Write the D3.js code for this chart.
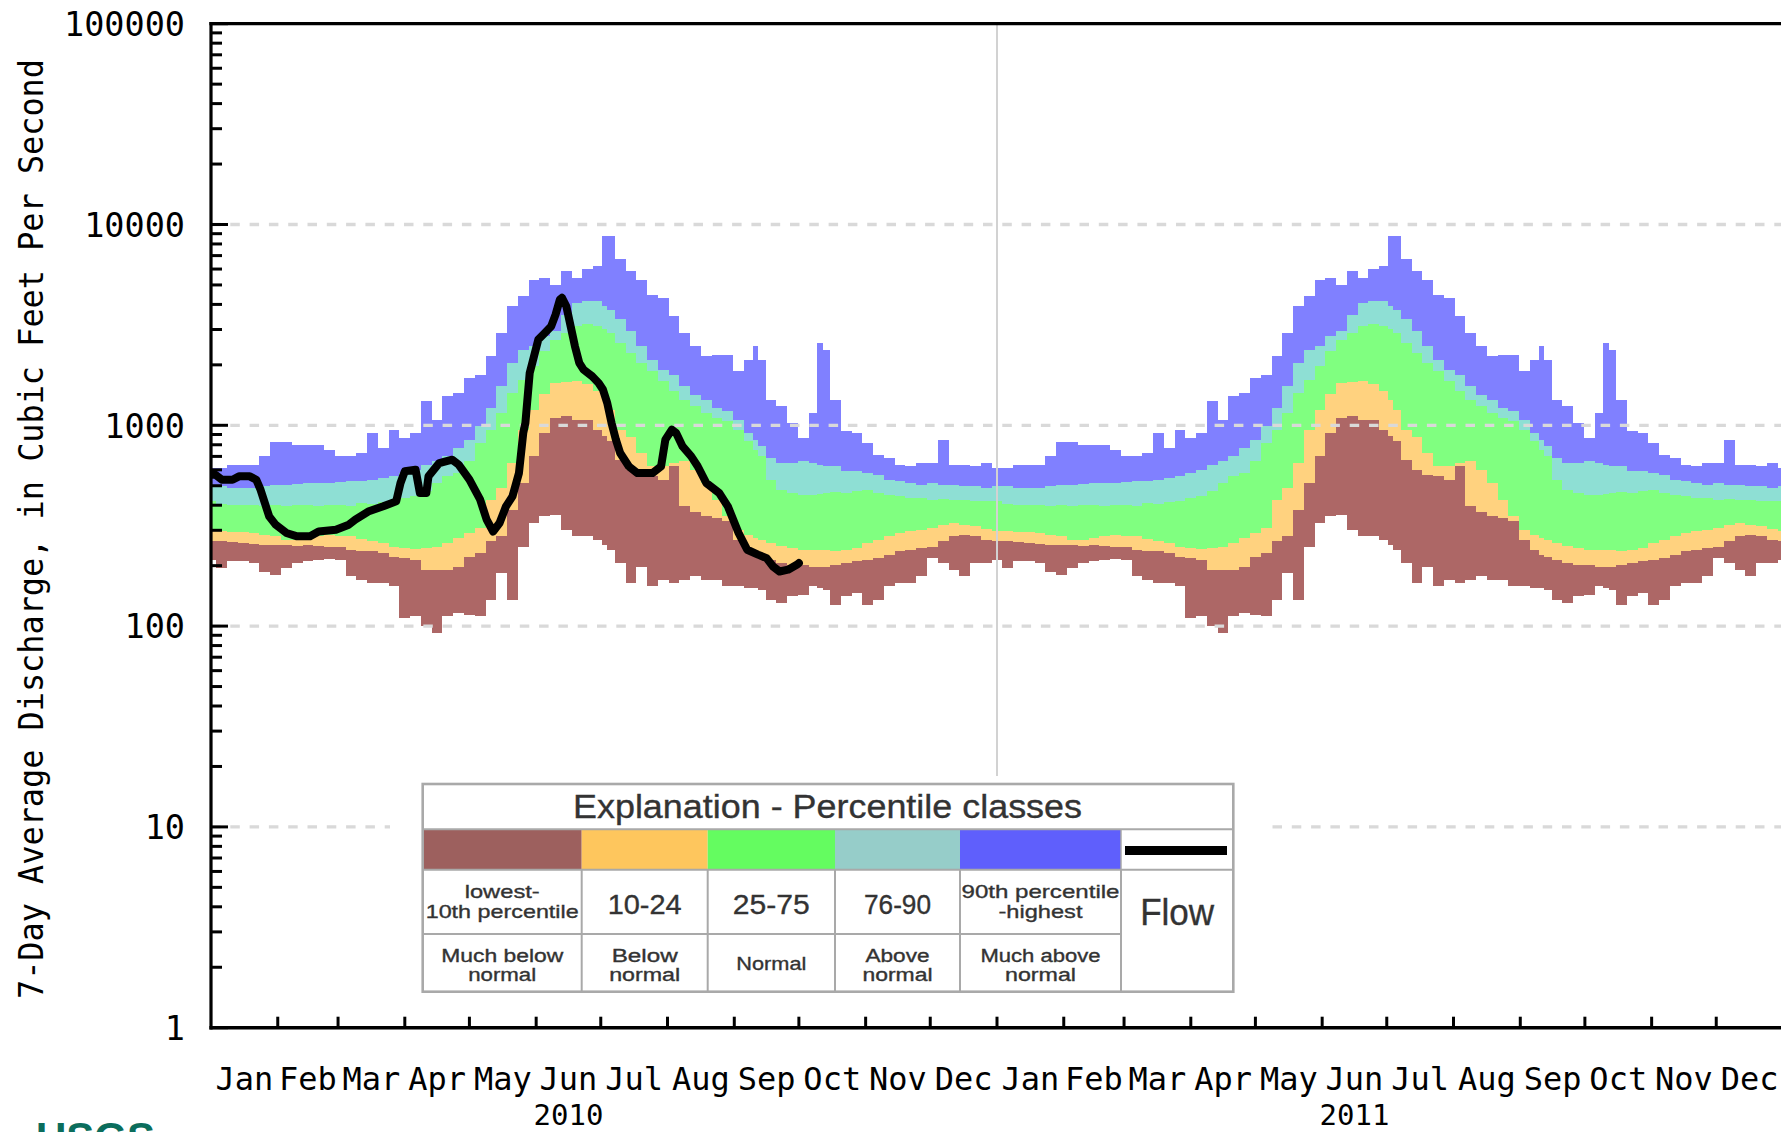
<!DOCTYPE html>
<html><head><meta charset="utf-8">
<script src="https://cdn.jsdelivr.net/npm/d3@7"></script>
<style>html,body{margin:0;padding:0;background:#fff;overflow:hidden}</style>
</head><body><svg id="c" width="1781" height="1132" xmlns="http://www.w3.org/2000/svg"></svg>
<script>
// ---- data (day of year -> 7-day discharge percentiles, cfs) ----
const days = [0,5,10,15,20,25,30,35,40,45,50,55,60,65,70,75,80,85,90,95,100,105,110,115,120,125,130,135,140,145,150,155,160,165,170,175,180,183,185,190,195,200,205,210,215,220,225,230,235,240,245,250,253,255,260,265,270,275,280,283,285,290,295,300,305,310,315,320,325,330,335,340,345,350,355,360,365];
const pMax = [613,613,637,637,637,700,822,822,802,802, 802,757,700,700,728,916,771,951,865,916, 1318,1067,1396,1449,1722,1788,2208,2884,3918,4394, 5320,5420,5023,5853,5420,5970,6194, 8750, 8750,6700,5853,5320,4478,4315,3493,2884,2477,2208,2251,2251,1858,2125, 2477, 2125,1343,1245,1028,865,1151, 2571, 2384,1343,933,916,817,714,687,637,625,649,649,849,637,637,625,649,613];
const p90 = [497,497,487,487,487,500,506,506,512,516, 516,516,520,526,526,532,547,557,578,601, 637,662,700,771,849,989,1219,1563,2046,2384, 2477,2780,2941,3560,4073,4150,4150, 3918, 3770,3365,2941,2477,2125,1896,1788,1563,1423,1343,1219,1174,1067,916, 849, 785,687,649,649,662,649, 637, 625,625,590,590,578,567,536,526,516,506,516,506,506,497,497,487,497];
const p75 = [418,407,402,402,402,398,402,398,402,402, 398,402,402,398,410,407,414,418,434,446, 469,516,557,578,662,817,951,1151,1449,1690, 1968,2339,2673,2884,3115,3210,3115, 3000, 2884,2571,2291,2046,1858,1656,1476,1343,1245,1151,1088,1047,951,832, 757, 700,536,478,460,451,451, 455, 460,464,460,469,474,460,451,443,434,434,426,430,426,426,418,418,418];
const p25 = [296,296,293,293,291,285,280,269,269,274, 280,285,282,280,271,264,259,249,245,242, 245,249,259,274,291,308,426,487,649,951, 1197,1424,1625,1637,1656,1612,1476, 1343, 1197,951,874,728,625,625,649,662,601,516,426,352,302,285, 274, 269,259,251,245,240,240, 240, 240,236,240,245,259,269,280,291,296,302,308,320,326,320,314,305,296];
const p10 = [264,264,261,259,257,254,254,254,251,254, 251,249,249,240,236,236,231,222,218,214, 191,191,191,198,222,231,264,280,380,516, 700,916,1088,1109,1067,1067,951, 882, 832,674,601,567,557,536,625,395,372,352,345,332,269,240, 227, 222,214,206,202,202,198, 198, 198,202,206,210,214,218,227,236,240,245,249,264,280,285,280,269,264];
const pMin = [214,195,210,210,206,187,180,195,206,210, 214,216,214,177,170,164,164,158,110,112, 100,92,112,116,114,112,135,184,135,249, 326,352,358,302,280,280,269, 254, 240,206,164,198,158,170,164,170,177,170,170,158,158,155, 155, 152,135,130,141,143,158, 155, 152,127,141,146,127,135,158,164,164,177,218,206,191,177,206,206,214];

// observed flow, 2010 (day of year -> cfs)
const flowDays = [0,2,5,10,13,18,21,23,25,27,30,35,40,46,50,58,64,67,73,80,86,88,90,95,97,100,101,106,112,115,120,125,128,131,134,137,140,143,145,146,148,150,152,155,158,160,162,163,165,167,169,171,173,177,180,182,184,186,188,190,194,198,205,209,211,214,216,219,223,226,230,236,240,245,249,254,258,261,264,268,272,273];
const flowValues = [568,568,536,536,557,557,536,478,410,352,320,291,280,280,296,302,320,339,372,395,418,516,590,601,460,460,557,649,674,637,536,426,339,296,326,395,443,578,916,1028,1824,2208,2673,2884,3115,3556,4227,4315,3918,3115,2477,2046,1892,1754,1625,1507,1291,1028,849,728,625,578,578,625,849,951,916,785,700,625,516,460,395,291,240,227,218,198,187,191,202,206];

const months = ["Jan","Feb","Mar","Apr","May","Jun","Jul","Aug","Sep","Oct","Nov","Dec"];
const years = [2010, 2011];
const yTicks = [1,10,100,1000,10000,100000];
const yGrid = [10,100,1000,10000];
const yTitle = "7-Day Average Discharge, in Cubic Feet Per Second";

const bandColors = ["#ad6766","#ffd27f","#80ff80","#8edfd4","#8080ff"]; // min-10, 10-25, 25-75, 75-90, 90-max
const legendTitle = "Explanation - Percentile classes";
const legendColors = ["#9d605e","#fec65d","#64fc60","#96cdc9","#5f5ffc"];
const legendRange = [["lowest-","10th percentile"],["10-24"],["25-75"],["76-90"],["90th percentile","-highest"]];
const legendDesc = [["Much below","normal"],["Below","normal"],["Normal"],["Above","normal"],["Much above","normal"]];
const legendFlow = "Flow";

// ---- drawing ----
const svg = d3.select("#c");
const W = 1781, H = 1132;
const X0 = 211, YB = 1027.7, YT = 23.7;
const x = d3.scaleUtc().domain([new Date(Date.UTC(2010,0,1)), new Date(Date.UTC(2012,0,1))]).range([X0, 1783]);
const y = d3.scaleLog().domain([1, 100000]).range([YB, YT]);
const DAY = 864e5;
const mono = "'DejaVu Sans Mono', monospace";
const sans = "'Liberation Sans', Arial, sans-serif";

svg.append("rect").attr("width", W).attr("height", H).attr("fill", "#fff");
svg.append("defs").append("clipPath").attr("id","clip")
  .append("rect").attr("x", X0).attr("y", YT).attr("width", W - X0).attr("height", YB - YT);

const plot = svg.append("g").attr("clip-path","url(#clip)");

// bands (painter's order, each filled down to the minimum)
const uppers = [pMax, p90, p75, p25, p10];
const colorsTopDown = [bandColors[4], bandColors[3], bandColors[2], bandColors[1], bandColors[0]];
years.forEach(yr => {
  const base = Date.UTC(yr,0,1);
  const pts = days.map((d,i) => ({t: new Date(base + d*DAY), i}));
  uppers.forEach((arr, k) => {
    const area = d3.area().curve(d3.curveStep)
      .x(p => x(p.t)).y0(p => y(pMin[p.i])).y1(p => y(arr[p.i]));
    plot.append("path").attr("d", area(pts)).attr("fill", colorsTopDown[k])
      .attr("shape-rendering","crispEdges");
  });
});

// horizontal dashed grid
yGrid.forEach(v => {
  plot.append("line").attr("x1", X0).attr("x2", W).attr("y1", y(v)).attr("y2", y(v))
    .attr("stroke", "#d9d9d9").attr("stroke-width", 3.3).attr("stroke-dasharray", "9.5,9.8");
});
// year divider
plot.append("line").attr("x1", x(new Date(Date.UTC(2011,0,1)))).attr("x2", x(new Date(Date.UTC(2011,0,1))))
  .attr("y1", YT).attr("y2", 776).attr("stroke", "#d2d2d2").attr("stroke-width", 2);

// flow line
const fBase = Date.UTC(2010,0,1);
const flowLine = d3.line().x((d,i) => x(new Date(fBase + flowDays[i]*DAY))).y((d) => y(d));
plot.append("path").attr("d", flowLine(flowValues)).attr("fill","none")
  .attr("stroke","#000").attr("stroke-width", 8).attr("stroke-linejoin","round").attr("stroke-linecap","round");

// ---- axes ----
const ax = svg.append("g");
// y ticks (major + minor), pointing into the plot
for (let e = 0; e <= 5; e++) {
  for (let m = 1; m <= 9; m++) {
    const v = m * Math.pow(10, e);
    if (v > 100000) break;
    const len = m === 1 ? 17 : 11;
    ax.append("line").attr("x1", X0).attr("x2", X0 + len).attr("y1", y(v)).attr("y2", y(v))
      .attr("stroke","#000").attr("stroke-width", 3);
  }
}
// x ticks at month starts
for (let i = 1; i < 24; i++) {
  const t = new Date(Date.UTC(2010 + Math.floor(i/12), i % 12, 1));
  ax.append("line").attr("x1", x(t)).attr("x2", x(t)).attr("y1", YB).attr("y2", YB - 11)
    .attr("stroke","#000").attr("stroke-width", 3);
}
// frame
ax.append("line").attr("x1", X0).attr("x2", X0).attr("y1", YT - 1.6).attr("y2", YB + 1.8).attr("stroke","#000").attr("stroke-width", 3.2);
ax.append("line").attr("x1", X0 - 1.6).attr("x2", W).attr("y1", YB).attr("y2", YB).attr("stroke","#000").attr("stroke-width", 3.5);
ax.append("line").attr("x1", X0 - 1.6).attr("x2", W).attr("y1", YT).attr("y2", YT).attr("stroke","#000").attr("stroke-width", 3.3);

// y tick labels
yTicks.forEach(v => {
  ax.append("text").attr("x", 185).attr("y", y(v) + 12.3).attr("text-anchor","end")
    .attr("font-family", mono).attr("font-size", 33.5).attr("fill","#000").text(d3.format("d")(v));
});
// y title
ax.append("text").attr("transform", `translate(43,529) rotate(-90)`).attr("text-anchor","middle")
  .attr("font-family", mono).attr("font-size", 34.5).attr("textLength", 940).attr("lengthAdjust","spacingAndGlyphs")
  .attr("fill","#000").text(yTitle);
// month labels
for (let i = 0; i < 24; i++) {
  const a = new Date(Date.UTC(2010 + Math.floor(i/12), i % 12, 1));
  const b = new Date(Date.UTC(2010 + Math.floor((i+1)/12), (i+1) % 12, 1));
  ax.append("text").attr("x", (x(a) + x(b)) / 2).attr("y", 1090).attr("text-anchor","middle")
    .attr("font-family", mono).attr("font-size", 32).attr("fill","#000").text(months[i % 12]);
}
// year labels
years.forEach(yr => {
  ax.append("text").attr("x", x(new Date(Date.UTC(yr,5,16)))).attr("y", 1125).attr("text-anchor","middle")
    .attr("font-family", mono).attr("font-size", 29).attr("fill","#000").text(String(yr));
});

// ---- legend ----
const lg = svg.append("g");
lg.append("rect").attr("x", 390).attr("y", 776).attr("width", 876).attr("height", 230).attr("fill","#fff");
const L = 422.7, R = 1233.3, T = 784, R1 = 829.3, R2 = 869.8, R3 = 934, B = 991.7;
const cols = [L, 581.7, 707.7, 835, 960, 1121, R];
legendColors.forEach((c, i) => {
  lg.append("rect").attr("x", cols[i]).attr("y", R1).attr("width", cols[i+1] - cols[i]).attr("height", R2 - R1).attr("fill", c);
});
// flow swatch
lg.append("line").attr("x1", 1125).attr("x2", 1227).attr("y1", 850.5).attr("y2", 850.5).attr("stroke","#000").attr("stroke-width", 9);
const gc = "#a9a9a9";
const gl = (x1,y1,x2,y2,w) => lg.append("line").attr("x1",x1).attr("y1",y1).attr("x2",x2).attr("y2",y2).attr("stroke",gc).attr("stroke-width",w||2);
gl(L, R1, R, R1); gl(L, R2, R, R2); gl(L, R3, cols[5], R3);
for (let i = 1; i < 6; i++) gl(cols[i], R2, cols[i], B);
gl(cols[5], R1, cols[5], R2, 1.5);
lg.append("rect").attr("x", L).attr("y", T).attr("width", R - L).attr("height", B - T)
  .attr("fill","none").attr("stroke", gc).attr("stroke-width", 2.6);

const tcol = "#333";
const ltext = (str, cx, by, fs, len) => lg.append("text").attr("x", cx).attr("y", by).attr("text-anchor","middle")
  .attr("font-family", sans).attr("font-size", fs).attr("fill", tcol)
  .attr("stroke", tcol).attr("stroke-width", 0.35)
  .attr("textLength", len).attr("lengthAdjust","spacingAndGlyphs").text(str);
ltext(legendTitle, 827.5, 818, 33, 509);
const centers = cols.slice(0,6).map((c,i) => (c + cols[i+1]) / 2);
const rangeLens = [[75,153],[74],[77],[67],[158,84]];
const descLens = [[122,68],[66,71],[70],[64,70],[120,71]];
legendRange.forEach((lines, i) => {
  if (lines.length === 1) ltext(lines[0], centers[i], 914, 28, rangeLens[i][0]);
  else lines.forEach((s, j) => ltext(s, centers[i], 898 + j*20, 19, rangeLens[i][j]));
});
legendDesc.forEach((lines, i) => {
  if (lines.length === 1) ltext(lines[0], centers[i], 970, 19, descLens[i][0]);
  else lines.forEach((s, j) => ltext(s, centers[i], 962 + j*19, 18, descLens[i][j]));
});
ltext(legendFlow, centers[5], 925, 36, 74);

// USGS logo fragment at bottom-left
svg.append("text").attr("x", 36).attr("y", 1152).attr("font-family", sans).attr("font-weight","bold")
  .attr("font-size", 42).attr("fill","#0b6d5c").text("USGS");
</script>
</body></html>
